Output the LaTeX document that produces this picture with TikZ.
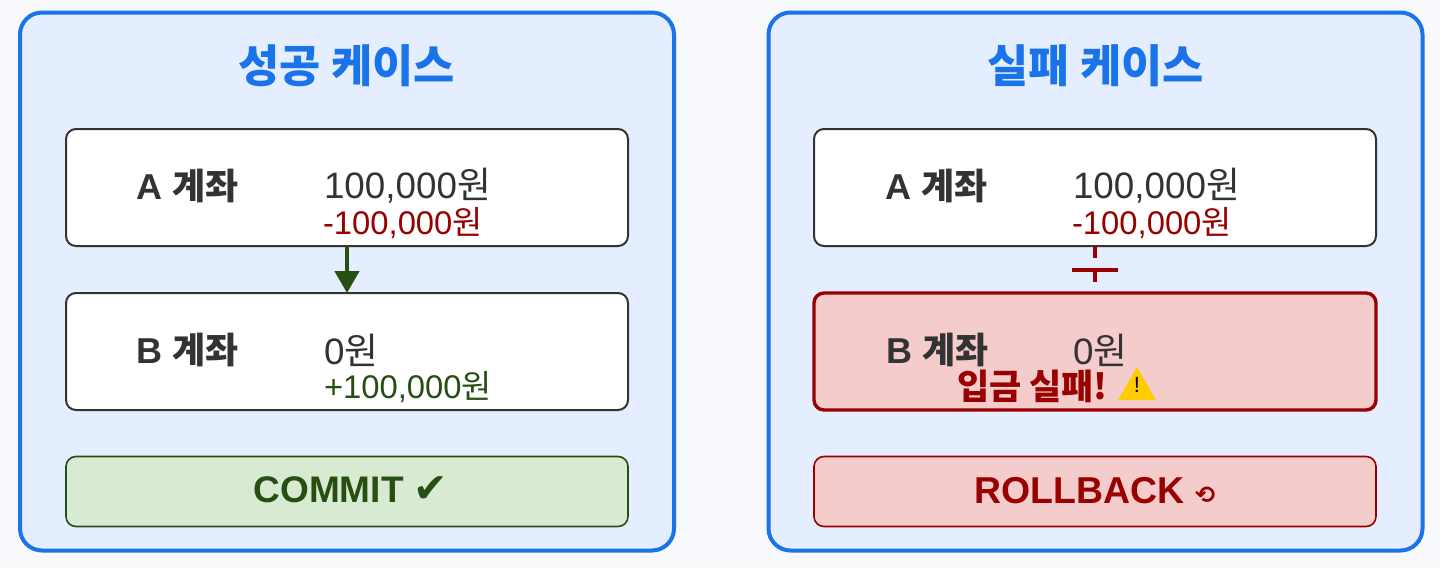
\documentclass[tikz,border=0pt]{standalone}
\usepackage{fontspec}
\setmainfont{Liberation Sans}
\newfontfamily\cjk{Noto Sans CJK KR}
\newfontfamily\sym{DejaVu Sans}
\usetikzlibrary{arrows.meta}
\definecolor{pagebg}{HTML}{F8F9FC}
\definecolor{panelblue}{HTML}{1A73E8}
\definecolor{panelfill}{HTML}{E4EEFF}
\definecolor{inkgrey}{HTML}{333333}
\definecolor{darkred}{HTML}{990000}
\definecolor{softred}{HTML}{F4CCCC}
\definecolor{darkgreen}{HTML}{274E13}
\definecolor{softgreen}{HTML}{D9EAD3}
\definecolor{warnyellow}{HTML}{FFCC00}
\newcommand{\fs}[1]{\fontsize{#1}{#1}\selectfont}

\begin{document}
\begin{tikzpicture}
[x=0.5pt,y=-0.5pt,%
  every node/.style={inner sep=0pt,outer sep=0pt},%
  panel/.style={draw=panelblue,fill=panelfill,line width=2pt,rounded corners=11pt,minimum width=327pt,minimum height=269pt},%
  account/.style={draw=inkgrey,fill=white,line width=1pt,rounded corners=5pt,minimum width=281pt,minimum height=58.5pt},%
  failed/.style={draw=darkred,fill=softred,line width=1.7pt,rounded corners=5pt,minimum width=281pt,minimum height=58.5pt},%
  okbar/.style={draw=darkgreen,fill=softgreen,line width=0.8pt,rounded corners=5pt,minimum width=281pt,minimum height=35pt,text=darkgreen,font=\fs{18.5}\bfseries},%
  badbar/.style={draw=darkred,fill=softred,line width=0.8pt,rounded corners=5pt,minimum width=281pt,minimum height=35pt,text=darkred,font=\fs{18.7}\bfseries},%
  paneltitle/.style={text=panelblue,font=\fs{22.4}\cjk\bfseries},%
  acctname/.style={anchor=west,text=inkgrey,font=\fs{18}\bfseries},%
  money/.style={anchor=west,text=inkgrey,font=\fs{18.4}},%
  delta/.style={anchor=west,font=\fs{16.4}},%
  send/.style={line width=2.3pt,darkgreen},%
  cut/.style={line width=2.4pt,darkred}]
\fill[pagebg] (0,0) rectangle (1440,568);

% success
\node[panel] (okpanel) at (347,281.5) {};
\node[paneltitle] (oktitle) at (346.5,66) {성공 케이스};
\node[account] (oka) at (347,187.5) {};
\node[account] (okb) at (347,351.5) {};
\node[okbar] (okresult) at (347,491.5) {\hspace{4pt}\raisebox{1.5pt}{COMMIT {\sym\fs{20.5}✔}}};
\node[acctname] (okaname) at (136,186) {A {\cjk 계좌}};
\node[money] (okamoney) at (324,186) {100,000{\cjk 원}};
\node[delta,text=darkred] (okadelta) at (323,223) {-100,000{\cjk 원}};
\node[acctname] (okbname) at (136,350) {B {\cjk 계좌}};
\node[money] (okbmoney) at (324,350) {0{\cjk 원}};
\node[delta,text=darkgreen] (okbdelta) at (324,387) {+100,000{\cjk 원}};
\draw[send,-{Triangle[width=12pt,length=11pt]}] (oka) -- (okb);

% failure
\node[panel] (badpanel) at (1095.5,281.5) {};
\node[paneltitle] (badtitle) at (1095.5,66) {실패 케이스};
\node[account] (bada) at (1095,187.5) {};
\node[failed] (badb) at (1095,351.5) {};
\node[badbar] (badresult) at (1095,491.5) {\raisebox{1.5pt}{ROLLBACK {\sym\fs{12}⟲}}};
\node[acctname] (badaname) at (885,186) {A {\cjk 계좌}};
\node[money] (badamoney) at (1073,186) {100,000{\cjk 원}};
\node[delta,text=darkred] (badadelta) at (1072,223) {-100,000{\cjk 원}};
\node[acctname] (badbname) at (886,350) {B {\cjk 계좌}};
\node[money] (badbmoney) at (1073,350) {0{\cjk 원}};
\node[anchor=west,text=darkred,font=\fs{17.5}\cjk\bfseries] (badnote) at (957,386) {입금 실패!};
\coordinate (warn) at (1137,385);
\fill[warnyellow] (1137,367) -- (1156,400) -- (1118,400) -- cycle;
\node[font=\fs{11},text=black] (warnmark) at (warn) {!};
\coordinate (gapa) at (1095,258);
\coordinate (gapb) at (1095,270);
\coordinate (gapc) at (1095,282);
\coordinate (barl) at (1072,270);
\coordinate (barr) at (1118,270);
\draw[cut] (bada.south) -- (gapa);
\draw[cut] (gapb) -- (gapc);
\draw[cut] (barl) -- (barr);
\end{tikzpicture}
\end{document}
